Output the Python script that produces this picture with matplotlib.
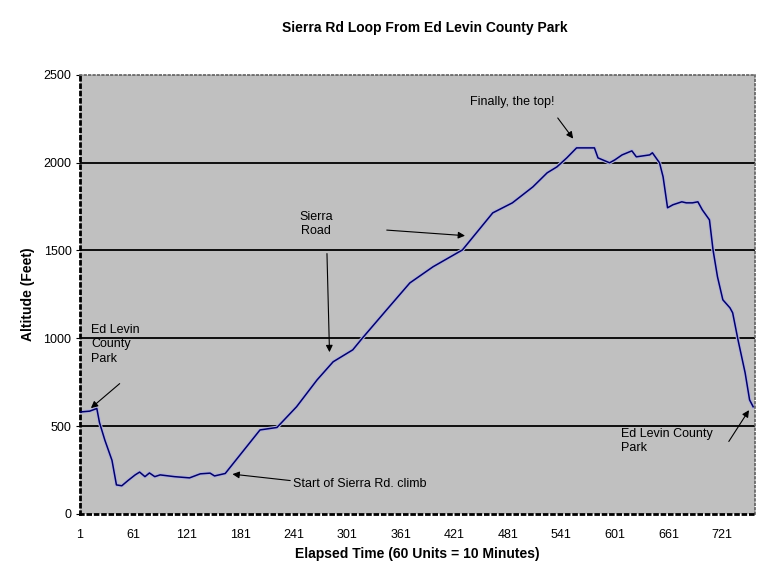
import matplotlib
matplotlib.use("Agg")
import matplotlib.pyplot as plt

plt.rcParams['font.family'] = ['Liberation Sans', 'DejaVu Sans']

# elapsed time units (60 units = 10 minutes) and altitude in feet
elapsed = [1, 12, 20, 23, 29, 37, 42, 48, 55, 63, 68, 74, 79, 85, 91, 107, 124, 136,
           147, 152, 164, 203, 222, 244, 267, 285, 307, 318, 345, 371, 397, 430, 464,
           486, 509, 525, 536, 547, 558, 578, 582, 595, 601, 609, 620, 625, 640, 643,
           651, 655, 660, 666, 676, 681, 688, 694, 699, 707, 711, 716, 722, 730, 733,
           739, 747, 752, 756]
altitude = [580, 585, 600, 520, 420, 305, 165, 160, 190, 222, 238, 212, 233, 212, 222,
            212, 205, 228, 232, 216, 230, 478, 492, 610, 763, 866, 934, 1002, 1162,
            1315, 1407, 1503, 1714, 1771, 1862, 1942, 1976, 2027, 2084, 2084, 2027,
            1999, 2016, 2044, 2067, 2033, 2044, 2056, 1999, 1919, 1743, 1760, 1777,
            1771, 1771, 1777, 1731, 1674, 1503, 1350, 1219, 1173, 1145, 991, 803, 649,
            610]

xticks = [1, 61, 121, 181, 241, 301, 361, 421, 481, 541, 601, 661, 721]
yticks = [0, 500, 1000, 1500, 2000, 2500]

fig = plt.figure(figsize=(7.68, 5.8), dpi=100)
ax = fig.add_axes([0.104, 0.114, 0.879, 0.757])
ax.set_facecolor('#c0c0c0')

for y in yticks[1:-1]:
    ax.axhline(y, color='black', lw=1.3, zorder=1)

# faint halo then the navy line, like the jpeg original
ax.plot(elapsed, altitude, color='#b0b0dc', lw=2.6, zorder=2)
ax.plot(elapsed, altitude, color='#000066', lw=1.1, zorder=3)

ax.set_xlim(1, 758)
ax.set_ylim(0, 2500)
ax.set_xticks(xticks)
ax.set_yticks(yticks)
ax.tick_params(axis='x', length=0, pad=11, labelsize=9)
ax.tick_params(axis='y', length=3, pad=3, labelsize=9)

for side in ['left', 'bottom']:
    ax.spines[side].set_linestyle(':')
    ax.spines[side].set_linewidth(2)
for side in ['top', 'right']:
    ax.spines[side].set_linestyle(':')
    ax.spines[side].set_color('#606060')
    ax.spines[side].set_linewidth(1.2)

ax.set_xlabel('Elapsed Time (60 Units = 10 Minutes)', fontsize=10, fontweight='bold', labelpad=4)
ax.set_ylabel('Altitude (Feet)', fontsize=10, fontweight='bold', labelpad=6)
fig.text(0.553, 0.952, 'Sierra Rd Loop From Ed Levin County Park', ha='center', va='center',
         fontsize=10, fontweight='bold')

arrow = dict(arrowstyle='-|>', color='black', lw=0.8, mutation_scale=10)
fs = 9

ax.annotate('', xy=(11, 592), xytext=(48, 752), arrowprops=arrow)
ax.text(14, 1080, 'Ed Levin\nCounty\nPark', ha='left', va='top', fontsize=fs, linespacing=1.25)

ax.text(266, 1651, 'Sierra\nRoad', ha='center', va='center', fontsize=fs, linespacing=1.2)
ax.annotate('', xy=(436, 1583), xytext=(342, 1617), arrowprops=arrow)
ax.annotate('', xy=(281, 905), xytext=(278, 1498), arrowprops=arrow)

ax.text(438, 2346, 'Finally, the top!', ha='left', va='center', fontsize=fs)
ax.annotate('', xy=(556, 2124), xytext=(535, 2267), arrowprops=arrow)

ax.text(240, 171, 'Start of Sierra Rd. climb', ha='left', va='center', fontsize=fs)
ax.annotate('', xy=(169, 228), xytext=(240, 188), arrowprops=arrow)

ax.text(608, 490, 'Ed Levin County\nPark', ha='left', va='top', fontsize=fs, linespacing=1.25)
ax.annotate('', xy=(753, 604), xytext=(727, 399), arrowprops=arrow)

fig.savefig('out.png', dpi=100)
